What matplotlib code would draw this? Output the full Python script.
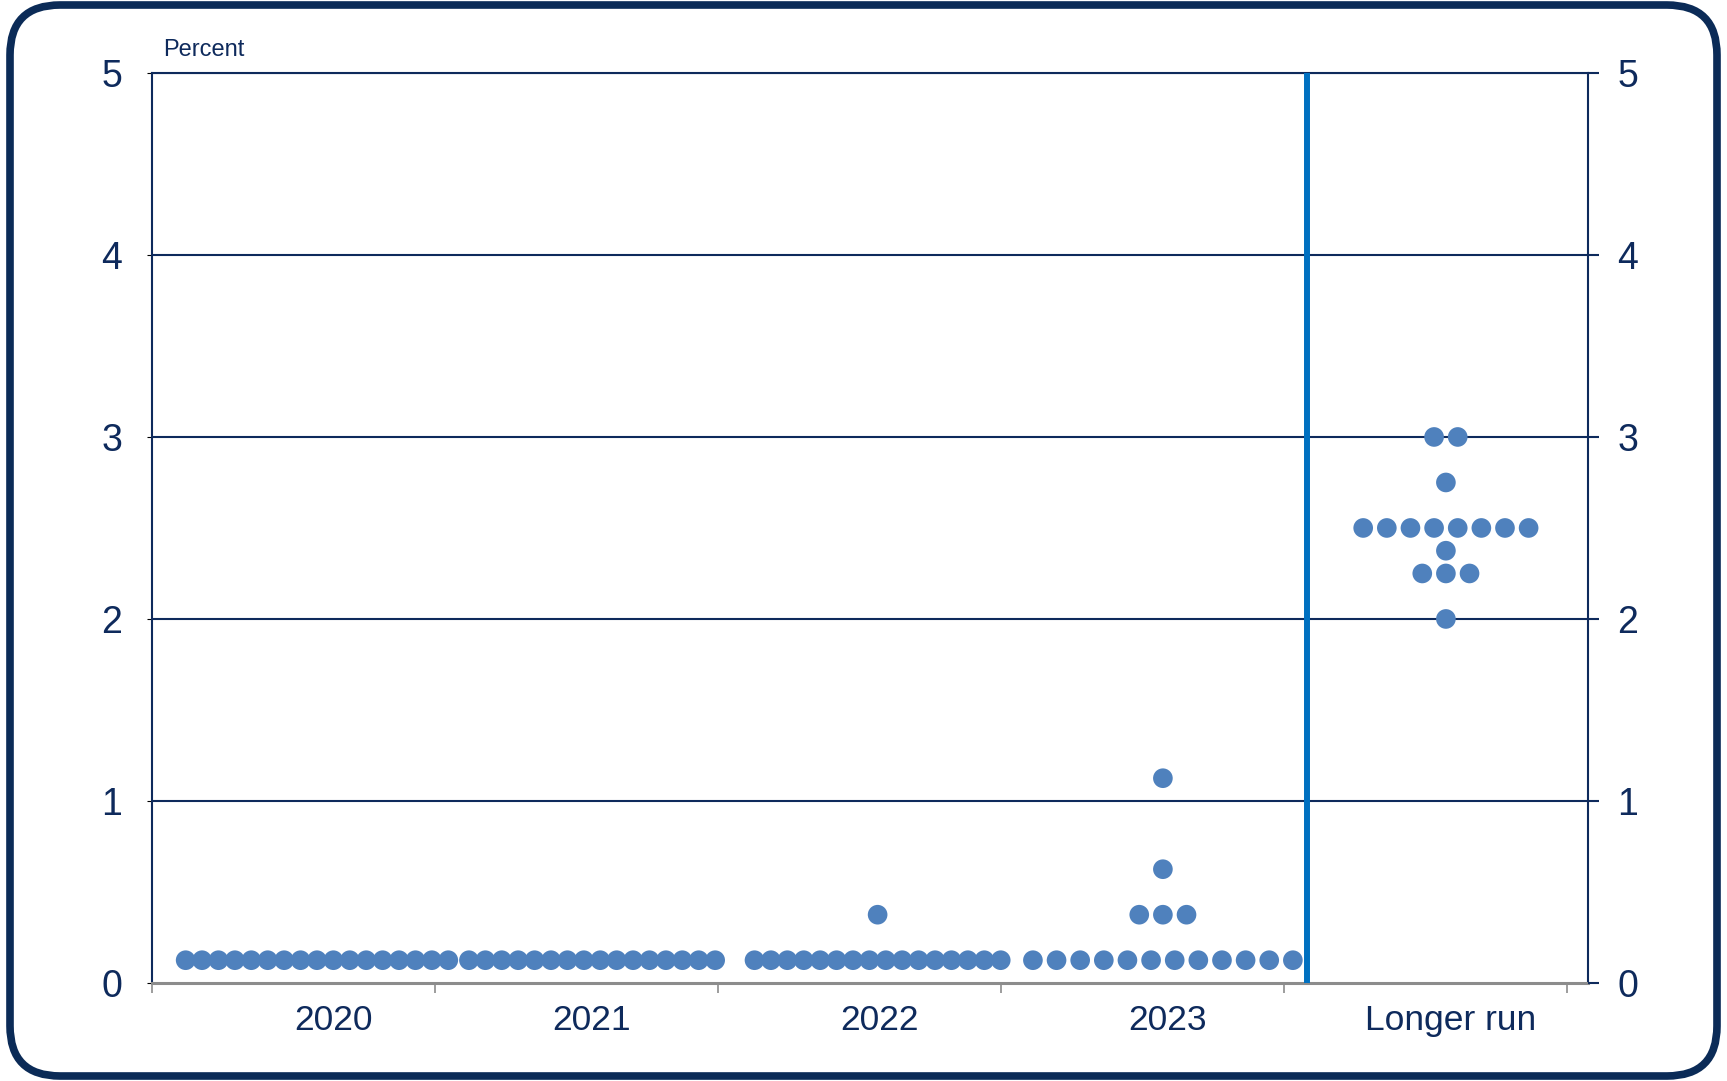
import matplotlib.pyplot as plt
import numpy as np
from matplotlib.patches import FancyBboxPatch

plt.rcParams['font.family'] = ['Liberation Sans', 'DejaVu Sans']

# Projections: federal funds rate midpoints and number of participants at each
categories = ["2020", "2021", "2022", "2023", "Longer run"]
rates_2020 = [0.125]
counts_2020 = [17]
rates_2021 = [0.125]
counts_2021 = [16]
rates_2022 = [0.125, 0.375]
counts_2022 = [16, 1]
rates_2023 = [0.125, 0.375, 0.625, 1.125]
counts_2023 = [12, 3, 1, 1]
rates_lr = [2.0, 2.25, 2.375, 2.5, 2.75, 3.0]
counts_lr = [1, 3, 1, 8, 1, 2]

all_rates = [rates_2020, rates_2021, rates_2022, rates_2023, rates_lr]
all_counts = [counts_2020, counts_2021, counts_2022, counts_2023, counts_lr]

# layout
group_center = [0.583, 1.555, 2.564, 3.572, 4.572]
dot_step = [0.058, 0.058, 0.058, 0.0835, 0.0835]
label_pos = [0.64, 1.555, 2.57, 3.59, 4.59]

navy = '#0E2A5C'
dot_color = '#4F81BD'

fig = plt.figure(figsize=(17.27, 10.81), dpi=100)
ax = fig.add_axes([0.0880, 0.0907, 0.8315, 0.8418])

for i in range(len(categories)):
    for rate, n in zip(all_rates[i], all_counts[i]):
        xs = group_center[i] + (np.arange(n) - (n - 1) / 2) * dot_step[i]
        ax.scatter(xs, [rate] * n, s=200, color=dot_color, edgecolors='none', zorder=5)

ax.set_xlim(0, 5.074)
ax.set_ylim(0, 5)

# horizontal grid
for y in range(1, 6):
    ax.axhline(y, color=navy, lw=1.5, zorder=1)

# separator before longer run
ax.axvline(4.081, color='#0070C0', lw=4.3, zorder=3)

for side in ['left', 'right', 'top']:
    ax.spines[side].set_color(navy)
    ax.spines[side].set_linewidth(1.5)
ax.spines['bottom'].set_color('#8C8C8C')
ax.spines['bottom'].set_linewidth(2.2)

ax.set_yticks(range(6))
ax.tick_params(axis='y', left=False, labelsize=27, labelcolor=navy, pad=18)

# right-hand axis labels
ax2 = ax.twinx()
ax2.set_ylim(0, 5)
ax2.set_yticks(range(6))
ax2.tick_params(axis='y', right=True, length=8, width=1.5, color=navy,
                labelsize=27, labelcolor=navy, pad=13)
for side in ['left', 'right', 'top', 'bottom']:
    ax2.spines[side].set_visible(False)

ax.set_xticks(range(6))
ax.set_xticklabels([])
ax.tick_params(axis='x', which='major', direction='out', length=7, width=1.2,
               color='#8C8C8C')
ax.set_xticks(label_pos, minor=True)
ax.set_xticklabels(categories, minor=True)
ax.tick_params(axis='x', which='minor', length=0, pad=15, labelsize=25.5,
               labelcolor=navy)

fig.text(163 / 1727, 1 - 50 / 1081, "Percent", fontsize=17, color=navy,
         va='center', ha='left')

# rounded outer frame
frame = FancyBboxPatch((10, 5), 1707, 1071, boxstyle="round,pad=0,rounding_size=50",
                       transform=None, fill=False, edgecolor='#0B2B57', lw=5.5)
fig.patches.append(frame)

fig.savefig('out.png', dpi=100, facecolor='white')
